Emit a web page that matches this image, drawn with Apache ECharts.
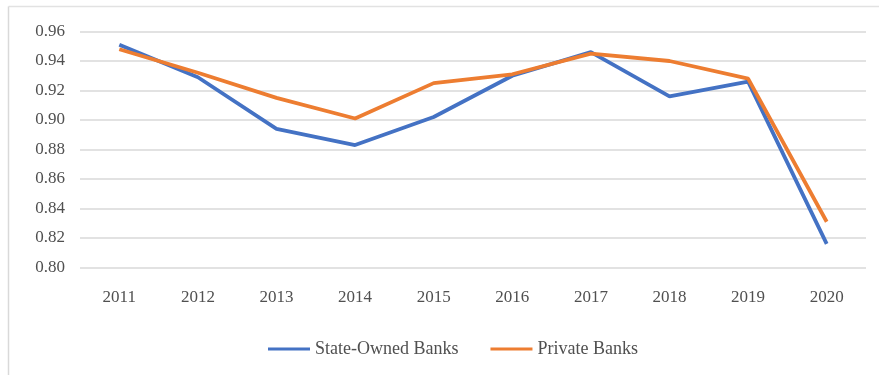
<!DOCTYPE html>
<html>
<head>
<meta charset="utf-8">
<script src="https://cdn.jsdelivr.net/npm/echarts@6/dist/echarts.min.js"></script>
<style>
  html, body { margin: 0; padding: 0; background: #fff; }
  #chart { width: 879px; height: 375px; }
</style>
</head>
<body>
<div id="chart"></div>
<script>
// Years on the category axis
const years = ['2011', '2012', '2013', '2014', '2015', '2016', '2017', '2018', '2019', '2020'];
// Efficiency scores by bank ownership
const stateOwned = [0.951, 0.929, 0.894, 0.883, 0.902, 0.930, 0.946, 0.916, 0.926, 0.816];
const privateBanks = [0.948, 0.932, 0.915, 0.901, 0.925, 0.931, 0.945, 0.940, 0.928, 0.831];
// Value axis range
const yMin = 0.80, yMax = 0.96, yStep = 0.02;

const serif = '"Liberation Serif", "Times New Roman", serif';
const chart = echarts.init(document.getElementById('chart'), null, { renderer: 'canvas' });

chart.setOption({
  animation: false,
  backgroundColor: '#ffffff',
  graphic: [
    { type: 'line', shape: { x1: 8.5, y1: 6.5, x2: 879, y2: 6.5 }, style: { stroke: '#e2e2e2', lineWidth: 1.5 } },
    { type: 'line', shape: { x1: 8.5, y1: 6.5, x2: 8.5, y2: 375 }, style: { stroke: '#d9d9d9', lineWidth: 1.5 } }
  ],
  grid: { left: 80, right: 13, top: 31.5, bottom: 107.5, containLabel: false },
  legend: {
    bottom: 12,
    left: 263,
    icon: 'rect',
    itemWidth: 42,
    itemHeight: 3,
    itemGap: 32,
    textStyle: { fontFamily: serif, fontSize: 18, color: '#505050' },
    data: ['State-Owned Banks', 'Private Banks']
  },
  xAxis: {
    type: 'category',
    data: years,
    boundaryGap: true,
    axisLine: { show: false },
    axisTick: { show: false },
    axisLabel: { fontFamily: serif, fontSize: 17, color: '#505050', margin: 22 }
  },
  yAxis: {
    type: 'value',
    min: yMin,
    max: yMax,
    interval: yStep,
    axisLine: { show: false },
    axisTick: { show: false },
    splitLine: { lineStyle: { color: '#d9d9d9', width: 1.5 } },
    axisLabel: {
      fontFamily: serif, fontSize: 17, color: '#505050', margin: 15,
      formatter: v => v.toFixed(2)
    }
  },
  series: [
    {
      name: 'State-Owned Banks',
      type: 'line',
      data: stateOwned,
      symbol: 'none',
      lineStyle: { color: '#4472C4', width: 3.8 },
      itemStyle: { color: '#4472C4' }
    },
    {
      name: 'Private Banks',
      type: 'line',
      data: privateBanks,
      symbol: 'none',
      lineStyle: { color: '#ED7D31', width: 3.8 },
      itemStyle: { color: '#ED7D31' }
    }
  ]
});
</script>
</body>
</html>
